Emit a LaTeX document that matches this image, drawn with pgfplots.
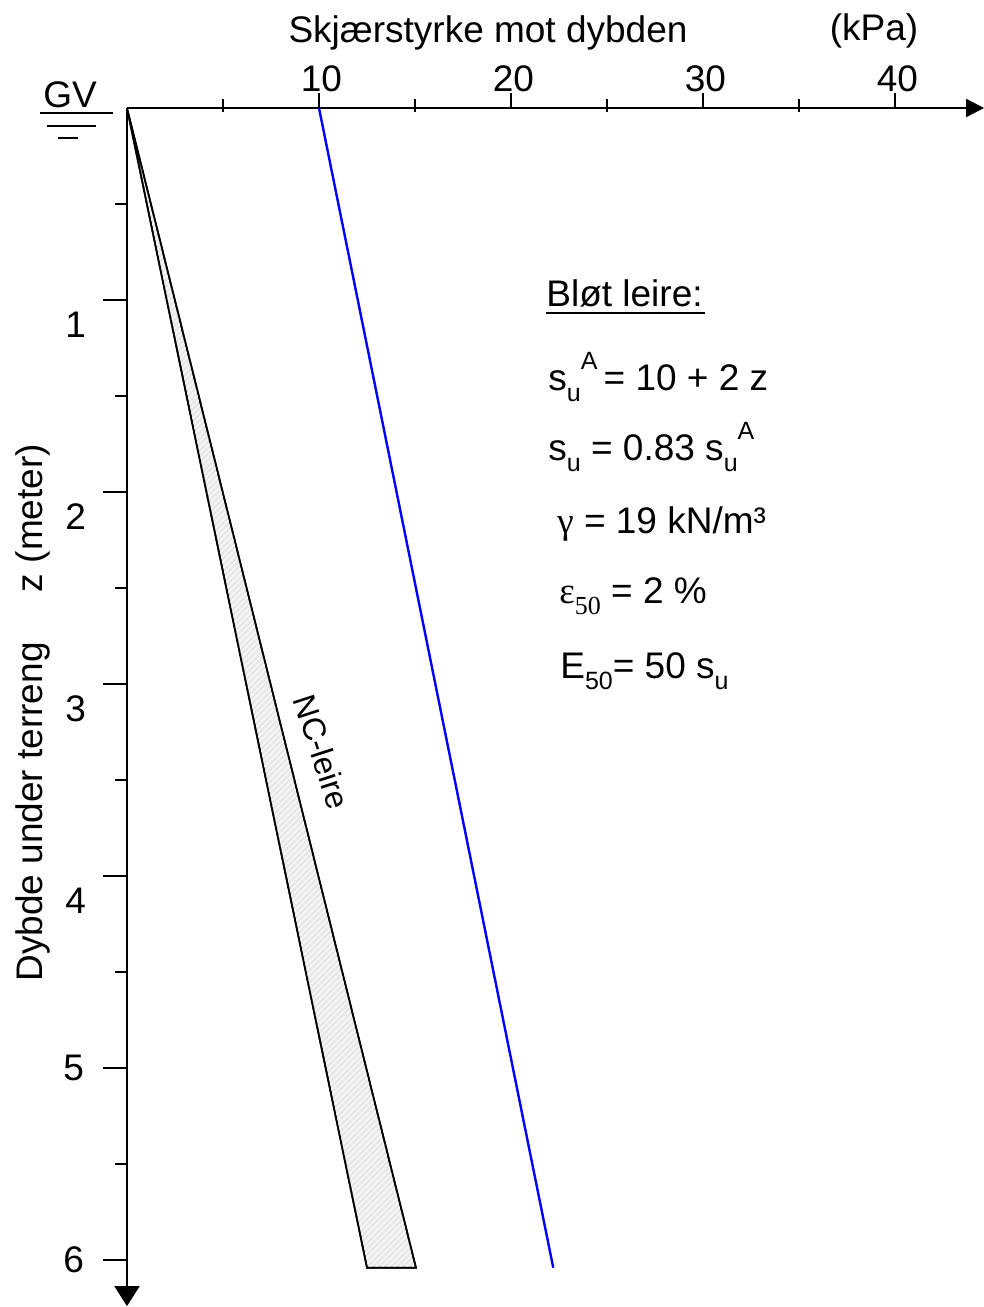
\documentclass[border=0pt]{standalone}
\usepackage{pgfplots}
\pgfplotsset{compat=1.18}
\usepackage{fontspec}
\setmainfont{Liberation Sans}
\newfontfamily\seriffont{Liberation Serif}
\usetikzlibrary{arrows.meta,patterns}
\newcommand{\sub}[1]{\raisebox{-0.32em}{\fontsize{12.5}{13}\selectfont #1}}
\newcommand{\sups}[1]{\raisebox{0.55em}{\fontsize{12.5}{13}\selectfont #1}}
\newcommand{\serifsub}[1]{\raisebox{-0.32em}{\seriffont\fontsize{13}{13}\selectfont #1}}
\begin{document}
\begin{tikzpicture}[font=\fontsize{18.5}{21}\selectfont]
\begin{axis}[
  at={(0,0)}, anchor=origin,
  x=9.6pt, y=96pt, y dir=reverse,
  xmin=0, xmax=44.64, ymin=0, ymax=6.24,
  enlargelimits=false,
  axis lines=middle,
  axis line style={line width=1pt},
  x axis line style={-{Triangle[length=9pt,width=9pt]}},
  y axis line style={-{Triangle[length=10pt,width=12.5pt]}},
  xtick={10,20,30,40},
  ytick={1,2,3,4},
  extra y ticks={5,6},
  major tick length=0pt, minor tick length=0pt,
  ticklabel style={font=\fontsize{18.5}{21}\selectfont, /pgf/number format/assume math mode=true},
  xticklabel style={anchor=base, yshift=8.5pt, xshift=1.2pt},
  yticklabel style={anchor=east, xshift=-17pt, yshift=-12.5pt},
  extra y tick style={yticklabel style={yshift=12.5pt, xshift=-1pt}},
  clip=false,
]
% shaded NC-leire wedge
\addplot[draw=black, line width=0.85pt, fill=gray!18,
  postaction={pattern=north east lines, pattern color=white}]
  coordinates {(0,0) (12.5,6.04) (15.05,6.04)} -- cycle;
% blue line s_u^A
\addplot[blue, line width=1.2pt] coordinates {(10,0) (22.2,6.04)};
% tick marks
\pgfplotsinvokeforeach{5,15,25,35}{\draw[line width=1pt] (axis cs:#1,0) ++(0,4.5pt) -- ++(0,-6.5pt);}
\pgfplotsinvokeforeach{10,20,30,40}{\draw[line width=1pt] (axis cs:#1,0) -- ++(0,7.5pt);}
\pgfplotsinvokeforeach{1,2,3,4,5,6}{\draw[line width=1pt] (axis cs:0,#1) -- ++(-12pt,0);}
\pgfplotsinvokeforeach{0.5,1.5,2.5,3.5,4.5,5.5}{\draw[line width=1pt] (axis cs:0,#1) -- ++(-6pt,0);}
\end{axis}
% titles
\node[anchor=base] at (180.5pt,33pt) {Skjærstyrke mot dybden};
\node[anchor=base] at (373.5pt,34pt) {(kPa)};
% GV symbol
\node[anchor=base] at (-28.5pt,0.5pt) {GV};
\draw[line width=0.9pt] (-43.5pt,-2.5pt) -- (-7pt,-2.5pt);
\draw[line width=0.9pt] (-40pt,-9pt) -- (-15.5pt,-9pt);
\draw[line width=0.9pt] (-34.5pt,-15pt) -- (-24.5pt,-15pt);
% y axis title
\node[rotate=90] at (-47pt,-352pt) {Dybde under terreng};
\node[rotate=90] at (-47pt,-205pt) {z (meter)};
% NC-leire
\node[rotate=-72, inner sep=0pt, font=\fontsize{16}{18}\selectfont] at (97.5pt,-322pt) {NC-leire};
% formula block
\node[anchor=base west, inner sep=0pt] at (209.5pt,-99pt) {Bløt leire:};
\draw[line width=1pt] (209.5pt,-102.5pt) -- (289pt,-102.5pt);
\node[anchor=base west, inner sep=0pt] at (210.5pt,-141pt) {s\sub{u}\sups{A}\,= 10 + 2 z};
\node[anchor=base west, inner sep=0pt] at (210.5pt,-176pt) {s\sub{u} = 0.83 s\sub{u}\sups{A}};
\node[anchor=base west, inner sep=0pt] at (215pt,-212.5pt) {{\seriffont γ} = 19 kN/m³};
\node[anchor=base west, inner sep=0pt] at (216pt,-247.5pt) {{\seriffont ε}\serifsub{50} = 2 \%};
\node[anchor=base west, inner sep=0pt] at (216.5pt,-285pt) {E\sub{50}= 50 s\sub{u}};
\pgfresetboundingbox
\useasboundingbox (-63.5pt,54pt) rectangle (428.5pt,-599.5pt);
\end{tikzpicture}
\end{document}
